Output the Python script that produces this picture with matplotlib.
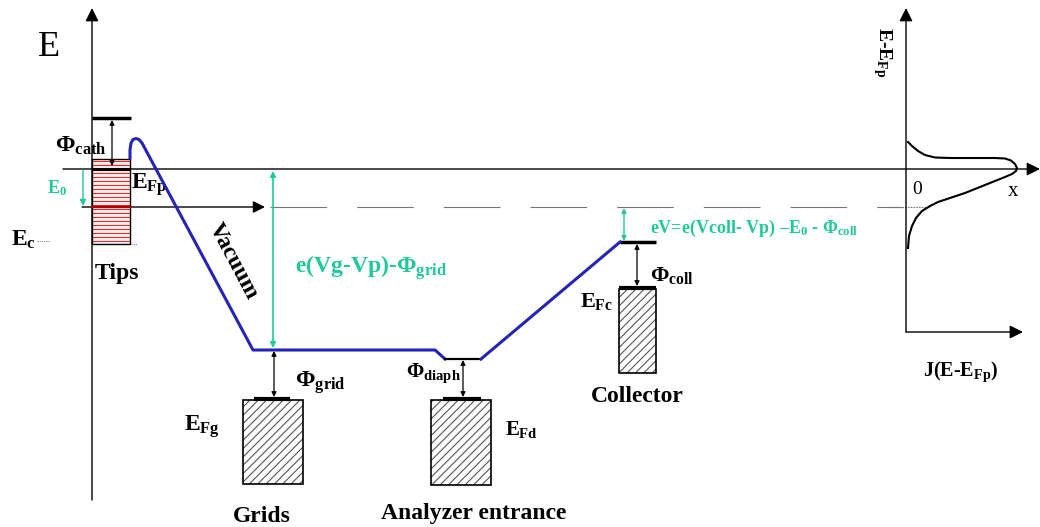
import numpy as np
import matplotlib
matplotlib.use('Agg')
import matplotlib.pyplot as plt
from matplotlib.patches import Rectangle, FancyArrowPatch

plt.rcParams['font.family'] = ['Liberation Serif', 'DejaVu Serif']
plt.rcParams['mathtext.fontset'] = 'custom'
plt.rcParams['mathtext.rm'] = 'Liberation Serif:bold'
plt.rcParams['mathtext.it'] = 'Liberation Serif:bold'
plt.rcParams['mathtext.bf'] = 'Liberation Serif:bold'
plt.rcParams['hatch.linewidth'] = 0.8

# ---------------- data (diagram levels, pixel space, y grows downward) ----------------
fermi_tip = 169          # E_Fp
e0_level = 207           # E_Fp - E0
vacuum_top = 118         # vacuum level above tip
tip_top, tip_bottom = 159, 244
# vacuum potential profile (blue)
vac_x = [130, 130, 131, 133, 136, 139, 142, 253, 435, 445]
vac_y = [158, 150, 143, 139.5, 138.5, 139.5, 143, 350, 350, 359]
diaph_x = [445, 481]
diaph_y = [359, 359]
ramp_x = [481, 620]
ramp_y = [359, 242]
# electrodes: (left, right, fermi level, bottom)
grid_box = (243, 303, 399, 484)
diaph_box = (431, 491, 399, 485)
coll_box = (619, 656, 288, 373)
coll_vac = 242
# energy distribution J(E-E_Fp)
dist_J = [908, 912, 918, 925, 935, 950, 975, 995, 1005, 1011, 1015, 1017, 1016, 1012,
          1005, 995, 980, 965, 950, 938, 930, 922, 916, 912, 909, 908]
dist_E = [142, 146, 151, 155, 157.5, 158, 158, 158, 158.5, 160.5, 164, 168, 171, 174,
          177, 181, 187, 193, 198, 202, 206, 211, 218, 226, 236, 248]

GREEN = '#1fc99a'
BLUE = '#2424b8'

fig = plt.figure(figsize=(10.4, 5.27), dpi=100)
ax = fig.add_axes([0, 0, 1, 1])
ax.set_xlim(0, 1040)
ax.set_ylim(527, 0)
ax.axis('off')


def arrow(x1, y1, x2, y2, style='-|>', ms=18, color='black', lw=1.0, z=3):
    a = FancyArrowPatch((x1, y1), (x2, y2), arrowstyle=style, mutation_scale=ms,
                        color=color, lw=lw, shrinkA=0, shrinkB=0, zorder=z)
    ax.add_patch(a)


# main axes
arrow(92, 500, 92, 8, ms=20, lw=1.0)
arrow(63, fermi_tip, 1040, fermi_tip, ms=20, lw=1.0)
arrow(906, 332, 906, 8, ms=20, lw=1.0)
arrow(906, 332, 1023, 332, ms=20, lw=1.0)

# tip block
ax.add_patch(Rectangle((92, tip_top), 38, tip_bottom - tip_top, facecolor='#fff0f0',
                       edgecolor='none', zorder=1))
for yy in np.arange(tip_top + 2, tip_bottom, 4):
    ax.plot([93, 130], [yy, yy], color='#ff2020', lw=0.75, zorder=2)
ax.add_patch(Rectangle((92, tip_top), 38, tip_bottom - tip_top, fill=False,
                       edgecolor='black', lw=1.0, zorder=3))
ax.plot([92, 131], [vacuum_top, vacuum_top], color='black', lw=2.5, solid_capstyle='butt')
ax.plot([92, 130], [fermi_tip, fermi_tip], color='black', lw=2.2, solid_capstyle='butt', zorder=4)
arrow(112, vacuum_top + 2, 112, fermi_tip - 3, style='<|-|>', ms=7, lw=0.9)

# E0 line with arrow and dashed continuation
arrow(82, e0_level, 265, e0_level, ms=18, lw=1.0)
ax.plot([92, 130], [e0_level, e0_level], color='#aa0000', lw=1.6, zorder=4)
ax.plot([270, 902], [e0_level, e0_level], color='#777777', lw=0.8,
        ls=(0, (51, 27)))
ax.plot([888, 930], [e0_level, e0_level], color='#777777', lw=0.8, ls=(0, (1.5, 1)))
arrow(83, fermi_tip + 1, 83, e0_level - 1, ms=9, color=GREEN, lw=1.0)

# E_c dotted marks
ax.plot([37, 50], [241, 241], color='#888888', lw=0.8, ls=(0, (1, 1)))
ax.plot([131, 137], [tip_bottom, tip_bottom], color='#888888', lw=0.8, ls=(0, (1, 1)))

# vacuum potential
ax.plot(vac_x, vac_y, color=BLUE, lw=2.2, solid_joinstyle='round', zorder=5)
ax.plot(diaph_x, diaph_y, color='black', lw=1.6, zorder=5)
ax.plot(ramp_x, ramp_y, color=BLUE, lw=2.2, zorder=5)


def electrode(box, bar_l, bar_r):
    l, r, top, bot = box
    ax.add_patch(Rectangle((l, top + 1), r - l, bot - top - 1, facecolor='white',
                           edgecolor='#555555', lw=0, hatch='////', zorder=2))
    ax.add_patch(Rectangle((l, top + 1), r - l, bot - top - 1, fill=False,
                           edgecolor='black', lw=1.2, zorder=3))
    ax.plot([bar_l, bar_r], [top, top], color='black', lw=3.0, solid_capstyle='butt', zorder=4)


electrode(grid_box, 254, 290)
electrode(diaph_box, 443, 481)
electrode(coll_box, 619, 656)
ax.plot([620, 656], [coll_vac, coll_vac], color='black', lw=2.5, solid_capstyle='butt', zorder=4)

# work function arrows
arrow(274, 351, 274, 397, style='<|-|>', ms=7, lw=0.9)
arrow(463, 360, 463, 397, style='<|-|>', ms=7, lw=0.9)
arrow(637, 244, 637, 286, style='<|-|>', ms=7, lw=0.9)
# green potential arrows
arrow(273, 171, 273, 348, style='<|-|>', ms=8, color=GREEN, lw=1.2)
arrow(624, e0_level + 1, 624, coll_vac - 1, style='<|-|>', ms=7, color=GREEN, lw=1.0)

# energy distribution
ax.plot(dist_J, dist_E, color='black', lw=1.5, zorder=5)

# ---------------- texts ----------------
bold = dict(fontweight='bold', fontsize=17)
ax.text(49, 47, 'E', fontsize=26, ha='center', va='center')
ax.text(55, 146, r'$\Phi_{cath}$', fontsize=17, ha='left', va='center')
ax.text(131, 185, r'$E_{Fp}$', fontsize=17, ha='left', va='center')
ax.text(47, 188, r'$E_0$', fontsize=13, ha='left', va='center', color=GREEN)
ax.text(11, 240, r'$E_c$', fontsize=17, ha='left', va='center')
ax.text(117, 273, 'Tips', ha='center', va='center', **bold)
ax.text(233, 261, 'Vacuum', ha='center', va='center', rotation=-62,
        rotation_mode='anchor', **bold)
ax.text(295, 268, r'e(Vg-Vp)-$\Phi_{grid}$', ha='left', va='center', color=GREEN, **bold)
ax.text(295, 383, r'$\Phi_{grid}$', fontsize=17, ha='left', va='center')
ax.text(184, 427, r'$E_{Fg}$', fontsize=17, ha='left', va='center')
ax.text(262, 516, 'Grids', ha='center', va='center', **bold)
ax.text(406, 373, r'$\Phi_{diaph}$', fontsize=15, ha='left', va='center')
ax.text(505, 429, r'$E_{Fd}$', fontsize=15, ha='left', va='center')
ax.text(474, 514, 'Analyzer entrance', ha='center', va='center', **bold)
ax.text(580, 301, r'$E_{Fc}$', fontsize=16, ha='left', va='center')
ax.text(650, 275, r'$\Phi_{coll}$', fontsize=16, ha='left', va='center')
ax.text(637, 397, 'Collector', ha='center', va='center', **bold)
ax.text(650, 228, r'eV=e(Vcoll- Vp) –E$_0$ - $\Phi_{coll}$', ha='left', va='center',
        color=GREEN, fontweight='bold', fontsize=13)
ax.text(917, 190, '0', fontsize=14, ha='center', va='center')
ax.text(1013, 192, 'x', fontsize=15, ha='center', va='center')
ax.text(882, 52, r'E-E$_{Fp}$', rotation=-90, ha='center', va='center',
        fontweight='bold', fontsize=14)
ax.text(961, 372, r'J(E-E$_{Fp}$)', ha='center', va='center', fontweight='bold', fontsize=14.5)

fig.savefig('out.png', dpi=100)
